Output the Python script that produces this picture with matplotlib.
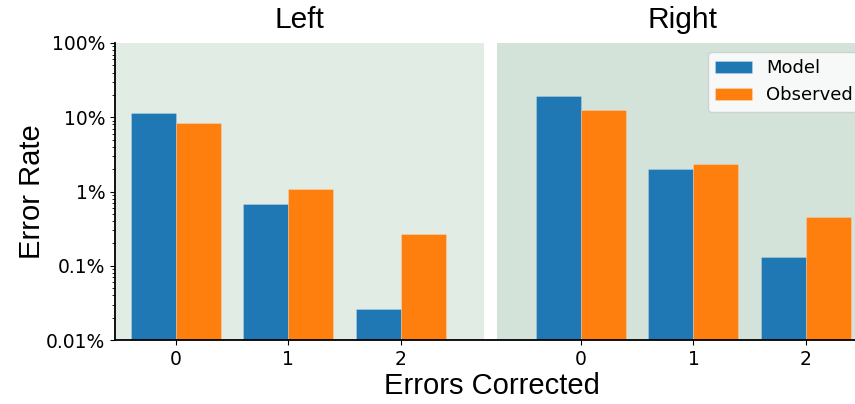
import numpy as np
import matplotlib
matplotlib.use('Agg')
import matplotlib.pyplot as plt
from matplotlib.ticker import FuncFormatter

# data (error rates as fractions)
errors = ['0', '1', '2']
left_model = [0.115, 0.0068, 0.000254]
left_observed = [0.0845, 0.0108, 0.00268]
right_model = [0.195, 0.0199, 0.00131]
right_observed = [0.124, 0.0234, 0.00449]

left_pos = np.arange(3)
right_pos = np.arange(3) + 3.6
width = 0.4

fig = plt.figure(figsize=(8.55, 4.04), dpi=100)
ax = fig.add_axes([115 / 855, 64 / 404, 754 / 855, 297 / 404])

# panel backgrounds
ax.axvspan(-0.54, 2.738, color='#e1ece4', zorder=0, lw=0)
ax.axvspan(2.853, 6.3, color='#d3e3d9', zorder=0, lw=0)

edge = (1, 1, 1, 0.25)
ax.bar(left_pos - width / 2, left_model, width, bottom=1e-5, color='#1f77b4',
       edgecolor=edge, linewidth=0.6, label='Model', zorder=2)
ax.bar(left_pos + width / 2, left_observed, width, bottom=1e-5, color='#ff7f0e',
       edgecolor=edge, linewidth=0.6, label='Observed', zorder=2)
ax.bar(right_pos - width / 2, right_model, width, bottom=1e-5, color='#1f77b4',
       edgecolor=edge, linewidth=0.6, zorder=2)
ax.bar(right_pos + width / 2, right_observed, width, bottom=1e-5, color='#ff7f0e',
       edgecolor=edge, linewidth=0.6, zorder=2)

ax.set_yscale('log')
ax.set_ylim(1e-4, 1)
ax.set_xlim(-0.54, 6.16)
ax.yaxis.set_major_formatter(FuncFormatter(lambda v, p: '{:g}%'.format(float('%.3g' % (v * 100)))))

ax.set_xticks(np.concatenate([left_pos, right_pos]))
ax.set_xticklabels(errors + errors)
ax.tick_params(labelsize=13.5)

ax.spines['top'].set_visible(False)
ax.spines['right'].set_visible(False)
ax.spines['left'].set_linewidth(1.3)
ax.spines['bottom'].set_linewidth(1.3)

lab_font = dict(family='Liberation Sans', fontsize=21)
ax.set_ylabel('Error Rate', labelpad=0, **lab_font)
ax.set_xlabel('Errors Corrected', labelpad=2, **lab_font)

title_font = dict(family='Liberation Sans', fontsize=21.5)
trans = ax.get_xaxis_transform()
ax.text((-0.54 + 2.738) / 2, 1.03, 'Left', transform=trans, ha='center', va='bottom', **title_font)
ax.text((2.853 + 6.16) / 2, 1.03, 'Right', transform=trans, ha='center', va='bottom', **title_font)

ax.legend(loc='upper right', fontsize=13)

fig.savefig('out.png', dpi=100)
